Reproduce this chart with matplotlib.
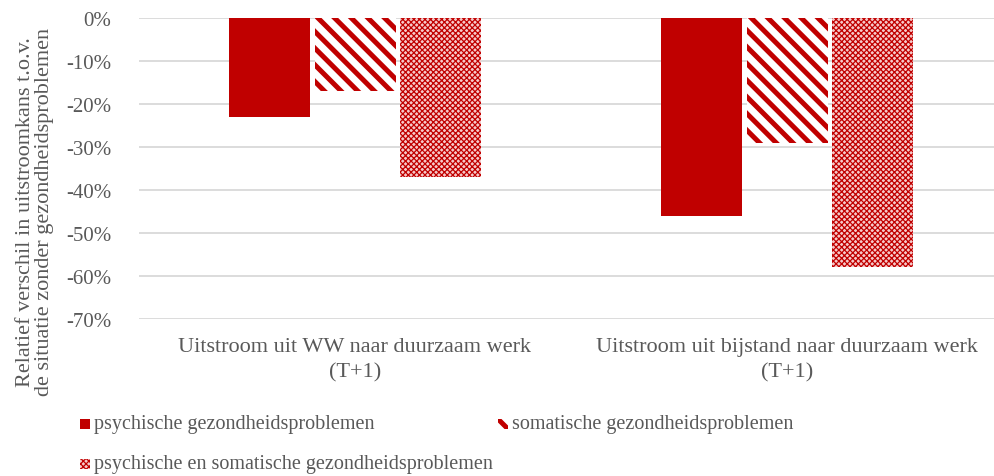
import matplotlib.pyplot as plt
import numpy as np
from matplotlib.patches import Rectangle, Polygon

plt.rcParams["font.family"] = ["Liberation Serif", "DejaVu Serif"]

categories = ["Uitstroom uit WW naar duurzaam werk\n(T+1)",
              "Uitstroom uit bijstand naar duurzaam werk\n(T+1)"]
series_names = ["psychische gezondheidsproblemen",
                "somatische gezondheidsproblemen",
                "psychische en somatische gezondheidsproblemen"]
psychisch = [-0.23, -0.46]
somatisch = [-0.17, -0.29]
beide = [-0.37, -0.58]
yticks = [0, -0.1, -0.2, -0.3, -0.4, -0.5, -0.6, -0.7]

RED = "#c00000"
TXT = "#595959"
W, H = 994, 477

fig = plt.figure(figsize=(W / 100, H / 100), dpi=100)
ax = fig.add_axes([139 / W, 1 - 320 / H, 864 / W, 301 / H])

x = np.arange(len(categories))
bw = 0.1875
step = 0.198

ax.bar(x - step, psychisch, bw, color=RED, linewidth=0, zorder=3)
with plt.rc_context({"hatch.linewidth": 3.6}):
    ax.bar(x, somatisch, bw, facecolor="white", edgecolor=RED, hatch="\\\\",
           linewidth=0, zorder=3)
with plt.rc_context({"hatch.linewidth": 0.9}):
    ax.bar(x + step, beide, bw, facecolor="#f6caca", edgecolor=RED,
           hatch="xxxxxx", linewidth=0, zorder=3)

ax.set_xlim(-0.5, 1.5)
ax.set_ylim(-0.7, 0)
ax.set_yticks(yticks)
ax.set_yticklabels([f"{round(v * 100)}%" for v in yticks])
ax.set_xticks(x)
ax.set_xticklabels(categories, fontsize=16)
for t in ax.get_xticklabels():
    t.set_linespacing(1.45)
ax.tick_params(axis="both", length=0, colors=TXT)
ax.tick_params(axis="y", labelsize=15, pad=20)
ax.tick_params(axis="x", pad=13)
for s in ax.spines.values():
    s.set_visible(False)
ax.yaxis.grid(True, color="#d9d9d9", linewidth=1.3, zorder=0)
ax.set_axisbelow(True)

fig.text(35 / W, 1 - 212 / H,
         "Relatief verschil in uitstroomkans t.o.v.\nde situatie zonder gezondheidsproblemen",
         rotation=90, ha="center", va="center", multialignment="center",
         color=TXT, fontsize=16, linespacing=1.0)


# legend drawn by hand, Excel style
def fx(px):
    return px / W


def fy(py):
    return 1 - py / H


s = 10
spots = [(80, 425), (498, 425), (80, 465)]
(x0, y0), (x1, y1), (x2, y2) = spots
fig.patches.append(Rectangle((fx(x0), fy(y0 + s / 2)), s / W, s / H,
                             facecolor=RED, linewidth=0, transform=fig.transFigure))
fig.patches.append(Polygon([(fx(x1), fy(y1 - s / 2)), (fx(x1 + 3.5), fy(y1 - s / 2)),
                            (fx(x1 + s), fy(y1 + s / 2 - 3.5)), (fx(x1 + s), fy(y1 + s / 2)),
                            (fx(x1 + s - 3.5), fy(y1 + s / 2)), (fx(x1), fy(y1 - s / 2 + 3.5))],
                           closed=True, facecolor=RED, linewidth=0,
                           transform=fig.transFigure))
with plt.rc_context({"hatch.linewidth": 0.9}):
    fig.patches.append(Rectangle((fx(x2), fy(y2 + s / 2)), s / W, s / H,
                                 facecolor="#f6caca", edgecolor=RED, hatch="xxxxxx",
                                 linewidth=0, transform=fig.transFigure))
for name, (px, py) in zip(series_names, spots):
    fig.text(fx(px + s + 4), fy(py), name, ha="left", va="center",
             color=TXT, fontsize=14.5)

fig.savefig("out.png", dpi=100)
